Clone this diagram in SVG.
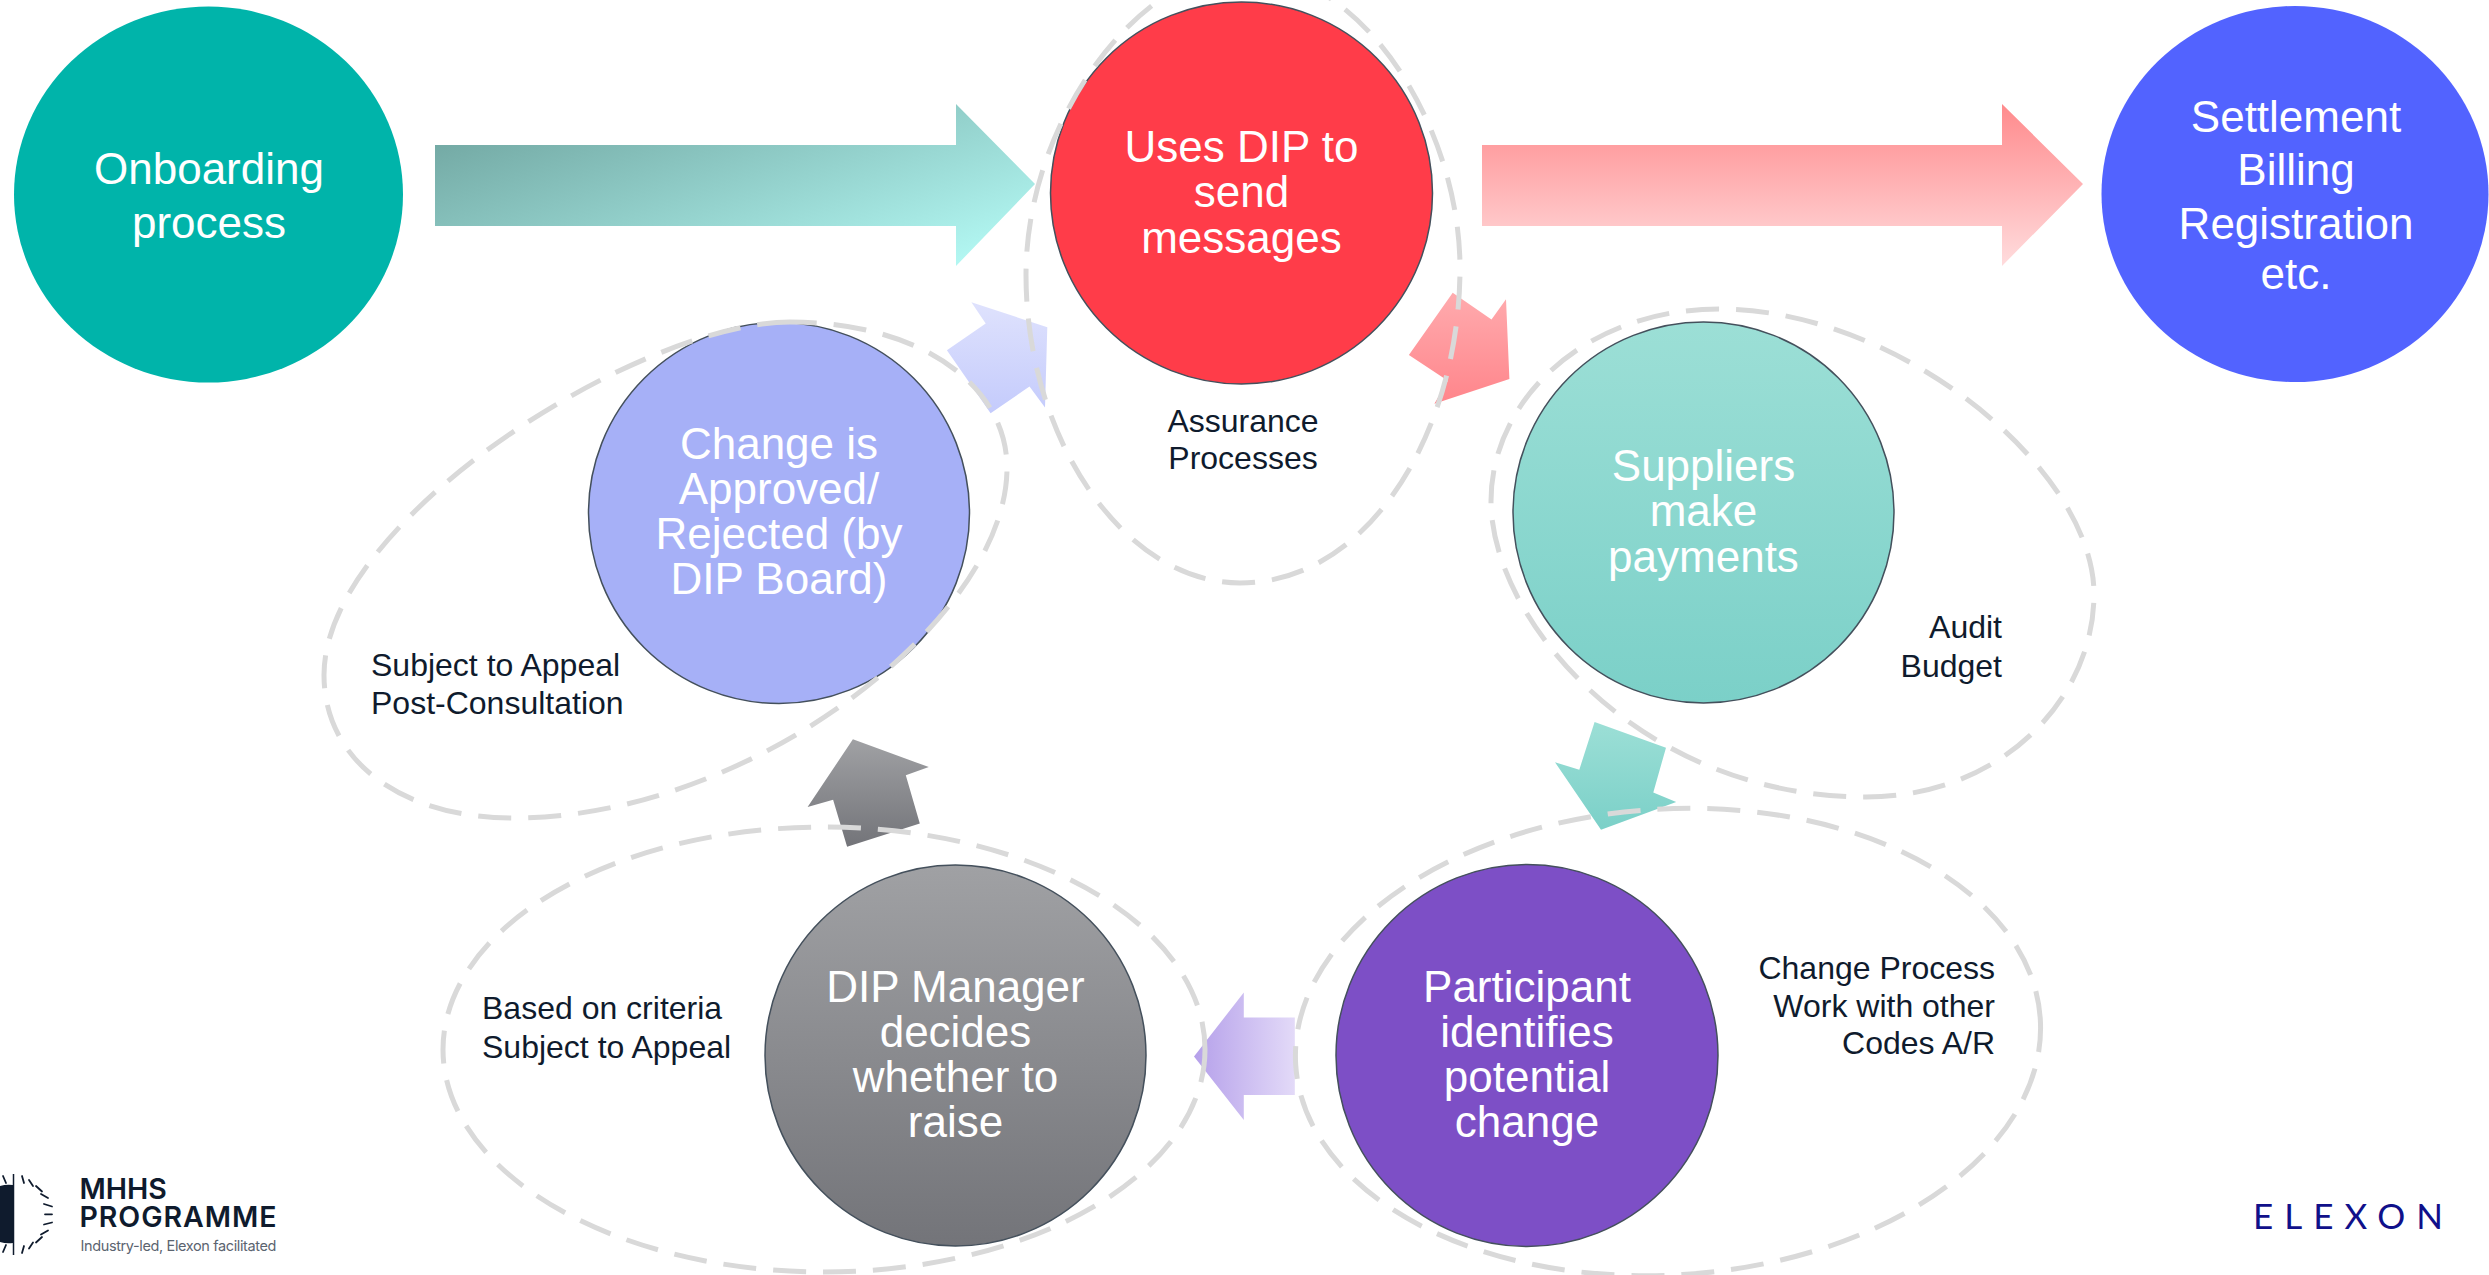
<svg xmlns="http://www.w3.org/2000/svg" width="2489" height="1275" viewBox="0 0 2489 1275">
<style>
.n{font-family:"Liberation Sans",Arial,sans-serif;font-size:44px;fill:#fff;text-anchor:middle}
.s{font-family:"Liberation Sans",Arial,sans-serif;font-size:32px;fill:#0f1b2d}
.e{text-anchor:end}.m{text-anchor:middle}
.b{fill:none;stroke:#d9d9d9;stroke-width:5;stroke-dasharray:33 17}
.o{stroke:#44505c;stroke-width:1.5}
.t{fill:none;stroke:#0f1b2d;stroke-width:1.8;stroke-linecap:round}
.l{font-family:Inter,"Liberation Sans",sans-serif;fill:#0f1b2d;font-weight:600;font-size:28.5px}
</style>
<defs>
<linearGradient id="gT" gradientUnits="userSpaceOnUse" x1="435" y1="145" x2="525" y2="410"><stop offset="0" stop-color="#74aaa5"/><stop offset="1" stop-color="#b2f7f2"/></linearGradient>
<linearGradient id="gR" x1="0" y1="0" x2="0" y2="1"><stop offset="0" stop-color="#ff8a8c"/><stop offset="1" stop-color="#ffdcdd"/></linearGradient>
<linearGradient id="gRs" x1="0" y1="0" x2="0" y2="1"><stop offset="0" stop-color="#ffabae"/><stop offset="1" stop-color="#ff858b"/></linearGradient>
<linearGradient id="gB" x1="0" y1="0" x2="0" y2="1"><stop offset="0" stop-color="#dfe2fd"/><stop offset="1" stop-color="#c4cbfc"/></linearGradient>
<linearGradient id="gG" x1="0" y1="0" x2="0" y2="1"><stop offset="0" stop-color="#a0a1a4"/><stop offset="1" stop-color="#737479"/></linearGradient>
<linearGradient id="gC" x1="0" y1="0" x2="0" y2="1"><stop offset="0" stop-color="#9cdfd6"/><stop offset="1" stop-color="#7bd0c8"/></linearGradient>
<linearGradient id="gP" x1="0" y1="0" x2="1" y2="0"><stop offset="0" stop-color="#b5a0ea"/><stop offset="1" stop-color="#e3daf8"/></linearGradient>
</defs>
<g id="arrows">
<path fill="url(#gT)" d="M435 145H956V104L1035 184L956 266V226H435Z"/>
<path fill="url(#gR)" d="M1482 145H2002V104L2083 184L2002 266V226H1482Z"/>
<path fill="url(#gRs)" d="M1452.7 292.8L1491.5 319.6L1506 299.3L1509.4 378.9L1434.4 403.7L1447.8 380.8L1408.9 355.1Z"/>
<path fill="url(#gB)" d="M971.4 302.3L1047.3 327.2L1045 407.6L1029.5 386.5L990.6 413.3L946.9 350.2L985.7 323.4Z"/>
<path fill="url(#gG)" d="M852.9 739.2L928.8 767.1L905.8 775.2L919.8 823.6L847.1 846.7L833.1 799.7L807.6 807.1Z"/>
<path fill="url(#gC)" d="M1594.6 722L1666 747.7L1653.3 792.4L1676.2 801.9L1601 829.8L1555 762.3L1579.3 769.7Z"/>
<path fill="url(#gP)" d="M1194 1056.4L1243.8 992.6V1017.6H1294.8V1095H1243.8V1119.9Z"/>
</g>
<g id="node-onboarding"><ellipse cx="208.5" cy="194.5" rx="194.5" ry="188" fill="#00b4aa"/><text class="n"><tspan x="209" y="184">Onboarding</tspan><tspan x="209" y="238">process</tspan></text></g>
<g id="node-settlement"><ellipse cx="2295" cy="194" rx="193.5" ry="188" fill="#5263ff"/><text class="n"><tspan x="2296" y="132">Settlement</tspan><tspan x="2296" y="185">Billing</tspan><tspan x="2296" y="239">Registration</tspan><tspan x="2296" y="289">etc.</tspan></text></g>
<g id="node-uses-dip"><circle class="o" cx="1241.5" cy="193" r="191" fill="#ff3c49"/><text class="n"><tspan x="1241.5" y="162">Uses DIP to</tspan><tspan x="1241.5" y="207">send</tspan><tspan x="1241.5" y="253">messages</tspan></text></g>
<g id="node-suppliers"><circle class="o" cx="1703.5" cy="512.5" r="190.5" fill="url(#gC)"/><text class="n"><tspan x="1703.5" y="481">Suppliers</tspan><tspan x="1703.5" y="526">make</tspan><tspan x="1703.5" y="572">payments</tspan></text></g>
<g id="node-change"><circle class="o" cx="779" cy="513" r="190.5" fill="#a6b0f7"/><text class="n"><tspan x="779" y="459">Change is</tspan><tspan x="779" y="504">Approved/</tspan><tspan x="779" y="549">Rejected (by</tspan><tspan x="779" y="594">DIP Board)</tspan></text></g>
<g id="node-participant"><circle class="o" cx="1527" cy="1055.5" r="191" fill="#7d4fc6"/><text class="n"><tspan x="1527" y="1002">Participant</tspan><tspan x="1527" y="1047">identifies</tspan><tspan x="1527" y="1092">potential</tspan><tspan x="1527" y="1137">change</tspan></text></g>
<g id="node-manager"><circle class="o" cx="955.5" cy="1055.5" r="190.5" fill="url(#gG)"/><text class="n"><tspan x="955.5" y="1002">DIP Manager</tspan><tspan x="955.5" y="1047">decides</tspan><tspan x="955.5" y="1092">whether to</tspan><tspan x="955.5" y="1137">raise</tspan></text></g>
<g id="connectors">
<path class="b" d="M1243 -30C1140 -30 1026 120 1026 275C1026 440 1125 583 1240 583C1370 583 1460 430 1460 268C1460 130 1365 -30 1243 -30Z"/>
<path class="b" d="M1719 309C1585 309 1491 400 1491 501C1491 620 1640 797 1866 797C2000 797 2094 700 2094 594C2094 470 1900 309 1719 309Z"/>
<path class="b" d="M790 322C640 322 324 520 324 675C324 760 400 818 514 818C750 818 1007 620 1007 468C1007 385 920 322 790 322Z"/>
<ellipse class="b" cx="824" cy="1049.5" rx="381" ry="222.5"/>
<ellipse class="b" cx="1668" cy="1042" rx="373" ry="233" transform="rotate(-3.5 1668 1042)"/>
</g>
<g id="notes">
<text class="s m"><tspan x="1243" y="432">Assurance</tspan><tspan x="1243" y="469">Processes</tspan></text>
<text class="s e"><tspan x="2002" y="638">Audit</tspan><tspan x="2002" y="677">Budget</tspan></text>
<text class="s"><tspan x="371" y="676">Subject to Appeal</tspan><tspan x="371" y="714">Post-Consultation</tspan></text>
<text class="s e"><tspan x="1995" y="979">Change Process</tspan><tspan x="1995" y="1017">Work with other</tspan><tspan x="1995" y="1054">Codes A/R</tspan></text>
<text class="s"><tspan x="482" y="1019">Based on criteria</tspan><tspan x="482" y="1058">Subject to Appeal</tspan></text>
</g>
<g id="logo-mhhs">
<path fill="#0f1b2d" d="M0 1186A30 30 0 0 1 13 1185V1243A30 30 0 0 1 0 1242Z"/>
<path stroke="#0f1b2d" stroke-width="1.5" d="M13.5 1174V1255"/>
<path class="t" d="M45 1214.3H52M44 1204L52 1206.5M41 1194L48 1198M36 1186L42 1191.5M29 1180L33 1186M22 1176L24 1183M44 1224.5L52 1222.5M41 1234.5L48 1230.5M36 1242.5L42 1237M29 1248.5L33 1242.5M22 1253L24 1246M3 1176L6 1183M3 1252L6 1245"/>
<text class="l" x="79.5" y="1199">MHHS</text>
<text class="l" x="79.5" y="1226.5" textLength="197">PROGRAMME</text>
<text x="80.5" y="1251" textLength="196" style="font-family:Inter,'Liberation Sans',sans-serif;font-size:14.5px;fill:#5b6470">Industry-led, Elexon facilitated</text>
</g>
<g id="logo-elexon"><text x="2253" y="1229" textLength="190" style="font-family:Lato,'Liberation Sans',sans-serif;font-size:35px;fill:#10108a">ELEXON</text></g>
</svg>
